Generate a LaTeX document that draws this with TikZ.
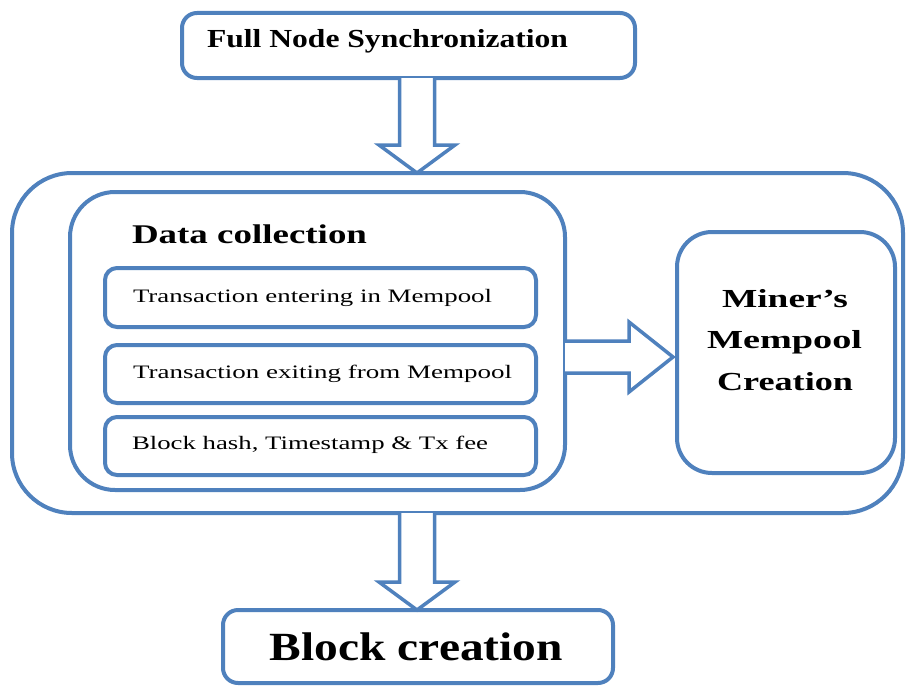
\documentclass[tikz,border=0pt]{standalone}
\usepackage{fontspec}
\setmainfont{Liberation Serif}
\usetikzlibrary{calc}
% stretch a piece of text horizontally to a given width, keeping its height
\newcommand\hstretch[2]{\resizebox{#1}{\height}{#2}}
\definecolor{frame}{RGB}{79,129,189}

\begin{document}
\begin{tikzpicture}[x=1pt,y=-1pt,
  box/.style={draw=frame, line width=4pt, fill=white, inner sep=0pt, outer sep=0pt},
  lbl/.style={inner sep=0pt, outer sep=0pt, anchor=base west, text=black},
  clbl/.style={inner sep=0pt, outer sep=0pt, anchor=base, text=black},
  blockarrow/.style={draw=frame, line width=3.5pt, fill=white, line join=miter}]
\useasboundingbox (0,0) rectangle (907,685);

% boxes
\node[box, rounded corners=15pt, minimum width=453pt, minimum height=65pt] (sync) at (408.5,45.5) {};
\node[box, rounded corners=60pt, minimum width=891pt, minimum height=340pt] (outer) at (457.5,343) {};
\node[box, rounded corners=45pt, minimum width=495pt, minimum height=298pt] (data) at (317.5,341) {};
\node[box, rounded corners=12pt, minimum width=431pt, minimum height=59pt] (sub1) at (320.5,297.5) {};
\node[box, rounded corners=12pt, minimum width=431pt, minimum height=58pt] (sub2) at (320.5,374) {};
\node[box, rounded corners=12pt, minimum width=431pt, minimum height=58pt] (sub3) at (320.5,446) {};
\node[box, rounded corners=35pt, minimum width=218pt, minimum height=241pt] (miner) at (786,352.5) {};
\node[box, rounded corners=15pt, minimum width=390pt, minimum height=73pt] (block) at (418,646.5) {};

% arrow axes
\coordinate (ax) at (417,0);
\coordinate (ay) at (0,357);

% block arrow: synchronization -> outer frame
\draw[blockarrow]
  ($(ax |- sync.south)+(-17.5,0)$) -- ($(ax |- outer.north)+(-17.5,-28)$)
  -- ($(ax |- outer.north)+(-38,-28)$) -- (ax |- outer.north)
  -- ($(ax |- outer.north)+(38,-28)$) -- ($(ax |- outer.north)+(17.5,-28)$)
  -- ($(ax |- sync.south)+(17.5,0)$);

% block arrow: outer frame -> block creation
\draw[blockarrow]
  ($(ax |- outer.south)+(-17.5,0)$) -- ($(ax |- block.north)+(-17.5,-28)$)
  -- ($(ax |- block.north)+(-38,-28)$) -- (ax |- block.north)
  -- ($(ax |- block.north)+(38,-28)$) -- ($(ax |- block.north)+(17.5,-28)$)
  -- ($(ax |- outer.south)+(17.5,0)$);

% block arrow: data collection -> miner's mempool
\coordinate (tip) at ($(ay -| miner.west)+(-4,0)$);
\draw[blockarrow]
  ($(ay -| data.east)+(0,-16)$) -- ($(tip)+(-44,-16)$)
  -- ($(tip)+(-44,-35)$) -- (tip)
  -- ($(tip)+(-44,35)$) -- ($(tip)+(-44,16)$)
  -- ($(ay -| data.east)+(0,16)$);

% labels
\node[lbl] (tsync) at (207,48) {\fontsize{26}{30}\selectfont\bfseries\hstretch{361pt}{Full Node Synchronization}};
\node[lbl] (tdata) at (132,243) {\fontsize{27}{31}\selectfont\bfseries\hstretch{235pt}{Data collection}};
\node[lbl] (t1) at (133,302) {\fontsize{19}{22}\selectfont\hstretch{359pt}{Transaction entering in Mempool}};
\node[lbl] (t2) at (133,378) {\fontsize{19}{22}\selectfont\hstretch{379pt}{Transaction exiting from Mempool}};
\node[lbl] (t3) at (132,449) {\fontsize{19}{22}\selectfont\hstretch{356pt}{Block hash, Timestamp \& Tx fee}};
\node[clbl] (m1) at (785,307) {\fontsize{26}{30}\selectfont\bfseries\hstretch{126pt}{Miner’s}};
\node[clbl] (m2) at (784.5,348) {\fontsize{26}{30}\selectfont\bfseries\hstretch{155pt}{Mempool}};
\node[clbl] (m3) at (785,390) {\fontsize{26}{30}\selectfont\bfseries\hstretch{136pt}{Creation}};
\node[clbl] (tblock) at (416.5,660) {\fontsize{40}{46}\selectfont\bfseries\hstretch{293pt}{Block creation}};
\end{tikzpicture}
\end{document}
